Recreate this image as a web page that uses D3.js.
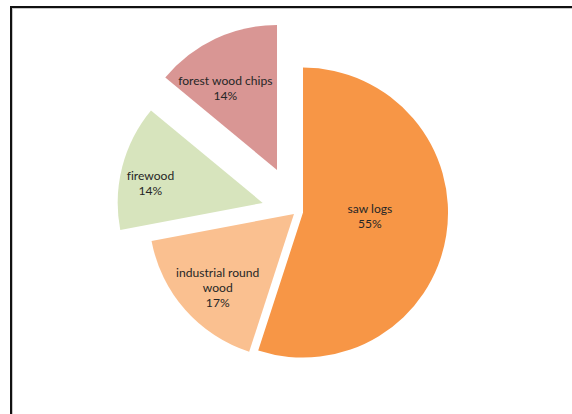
<!DOCTYPE html>
<html>
<head>
<meta charset="utf-8">
<script src="https://cdn.jsdelivr.net/npm/d3@7/dist/d3.min.js"></script>
<style>
  html, body { margin: 0; padding: 0; background: #fff; }
  svg { display: block; }
  text { font-variant-ligatures: none; font-feature-settings: "liga" 0; }
</style>
</head>
<body>
<svg id="chart" width="572" height="414"></svg>
<script>
// Roundwood use by assortment (share of total, %)
const categories = ["saw logs", "industrial round wood", "firewood", "forest wood chips"];
const shares = [55, 17, 14, 14];
const colors = ["#F79646", "#FAC090", "#D7E4BD", "#D99694"];

// Pull-out distance of each slice and label placement (radius, angular nudge in degrees)
const explode = [6.5, 3.5, 35, 46];
const labelRadius = [67, 106, 114, 97];
const labelNudge = [-6, -2.6, -4.4, -7];

const W = 572, H = 414;
const cx = 296.6, cy = 211.6, R = 145;

const svg = d3.select("#chart");

// chart area frame
svg.append("rect")
  .attr("x", 12.5).attr("y", 8.5)
  .attr("width", W).attr("height", H)
  .attr("fill", "none").attr("stroke", "#c8c8c8").attr("stroke-width", 1);
svg.append("rect")
  .attr("x", 11).attr("y", 7)
  .attr("width", W).attr("height", H)
  .attr("fill", "none").attr("stroke", "#111").attr("stroke-width", 2);

const pie = d3.pie().sort(null).value(d => d.value).startAngle(0).endAngle(2 * Math.PI);
const data = categories.map((c, i) => ({ name: c, value: shares[i], i }));
const arcs = pie(data);
const arc = d3.arc().innerRadius(0).outerRadius(R);

const g = svg.append("g").attr("transform", `translate(${cx},${cy})`);

const slices = g.selectAll("g.slice")
  .data(arcs)
  .join("g")
  .attr("class", "slice")
  .attr("transform", d => {
    const mid = (d.startAngle + d.endAngle) / 2;
    const e = explode[d.data.i];
    return `translate(${e * Math.sin(mid)},${-e * Math.cos(mid)})`;
  });

slices.append("path")
  .attr("d", arc)
  .attr("fill", d => colors[d.data.i]);

// wrap a label into lines no wider than maxW
function wrapLines(text, maxW, measure) {
  const words = text.split(" ");
  const lines = [];
  let cur = "";
  words.forEach(w => {
    const trial = cur ? cur + " " + w : w;
    if (cur && measure(trial) > maxW) { lines.push(cur); cur = w; }
    else cur = trial;
  });
  if (cur) lines.push(cur);
  return lines;
}

const fontFamily = "Lato, 'Open Sans', sans-serif";
const fontSize = 12.1;
const probe = svg.append("text").attr("font-family", fontFamily).attr("font-size", fontSize);
const measure = s => { probe.text(s); return probe.node().getComputedTextLength(); };

const lineH = 15;
slices.each(function(d) {
  const i = d.data.i;
  const mid = (d.startAngle + d.endAngle) / 2 + labelNudge[i] * Math.PI / 180;
  const lx = labelRadius[i] * Math.sin(mid);
  const ly = -labelRadius[i] * Math.cos(mid);
  const lines = wrapLines(d.data.name, 100, measure).concat([d3.format(".0f")(d.data.value) + "%"]);
  const t = d3.select(this).append("text")
    .attr("text-anchor", "middle")
    .attr("font-family", fontFamily)
    .attr("font-size", fontSize)
    .attr("fill", "#262626");
  const y0 = ly - (lines.length - 1) * lineH / 2;
  lines.forEach((s, k) => {
    t.append("tspan")
      .attr("x", lx)
      .attr("y", y0 + k * lineH)
      .attr("dy", "0.35em")
      .text(s);
  });
});
probe.remove();
</script>
</body>
</html>
